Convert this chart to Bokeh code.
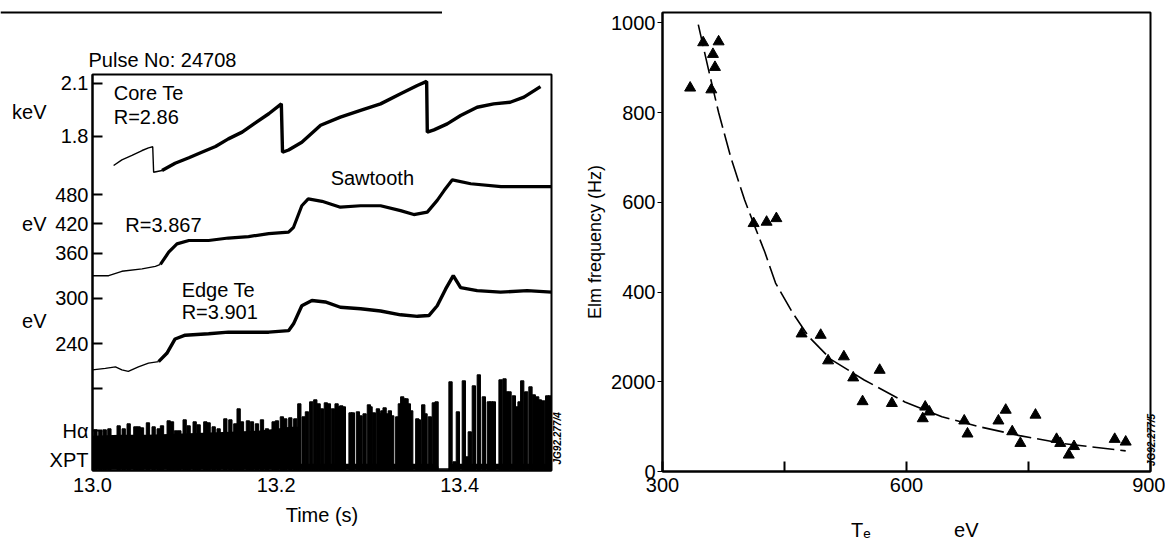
import math
from bokeh.plotting import figure
from bokeh.models import Range1d, FixedTicker, Label, LinearAxis, Title, Span, Spacer
from bokeh.layouts import row, column
from bokeh.embed import file_html
from bokeh.resources import INLINE

FONT = "Liberation Sans"
NB = "\u00a0"

# ---------------- data: left panel (Pulse No: 24708) ----------------
time_ticks = [13.0, 13.2, 13.4]
time_tick_labels = ["13.0", "13.2", "13.4"]

core_t = [13.023, 13.032, 13.043, 13.054, 13.061, 13.0656, 13.0666, 13.0757, 13.090, 13.105,
          13.119, 13.134, 13.148, 13.163, 13.177, 13.192, 13.2057, 13.207, 13.2136, 13.228,
          13.2485, 13.270, 13.292, 13.3138, 13.3356, 13.3538, 13.364, 13.3647, 13.372, 13.3864,
          13.401, 13.419, 13.437, 13.455, 13.470, 13.488]
core_kev = [1.634, 1.666, 1.691, 1.719, 1.734, 1.740, 1.596, 1.606, 1.647, 1.678,
            1.709, 1.742, 1.785, 1.823, 1.874, 1.927, 1.983, 1.709, 1.722, 1.766,
            1.862, 1.908, 1.946, 1.983, 2.040, 2.087, 2.110, 1.823, 1.836, 1.870,
            1.917, 1.964, 1.983, 1.992, 2.021, 2.081]
core_ticks = [2.1, 1.8]
core_tick_labels = ["2.1", "1.8"]

r3867_t = [13.0, 13.0176, 13.032, 13.054, 13.0685, 13.074, 13.083, 13.092, 13.105, 13.1265,
           13.148, 13.170, 13.192, 13.2136, 13.219, 13.228, 13.235, 13.250, 13.270, 13.292,
           13.3138, 13.3356, 13.350, 13.3647, 13.3755, 13.383, 13.392, 13.412, 13.445, 13.5]
r3867_ev = [314, 314, 323, 328, 333, 337, 362, 379, 386, 386,
            391, 394, 400, 403, 413, 457, 471, 466, 454, 457,
            457, 447, 439, 444, 468, 488, 510, 502, 496, 496]
r3867_ticks = [480, 420, 360]
r3867_tick_labels = ["480", "420", "360"]

edge_t = [13.0, 13.014, 13.025, 13.032, 13.039, 13.050, 13.061, 13.072, 13.081, 13.090,
          13.101, 13.1265, 13.148, 13.170, 13.192, 13.2136, 13.219, 13.228, 13.239, 13.2536,
          13.270, 13.292, 13.3138, 13.3356, 13.354, 13.3664, 13.3755, 13.3846, 13.393, 13.401,
          13.419, 13.4445, 13.4735, 13.5]
edge_ev = [205, 207, 209, 205, 203, 209, 214, 216, 227, 246,
           251, 253, 255, 255, 255, 257, 266, 290, 297, 295,
           288, 286, 283, 278, 276, 277, 290, 312, 330, 314,
           310, 308, 310, 308]
edge_ticks = [300, 240, 180]
edge_tick_labels = ["300", "240", ""]

# H-alpha (XPT), arbitrary units
ha_dense_t = [13.0, 13.03, 13.06, 13.09, 13.12, 13.15, 13.18, 13.2, 13.215, 13.225]
ha_dense_h = [3.4, 3.5, 3.5, 3.6, 3.7, 3.8, 3.9, 4.1, 4.3, 4.3]
ha_floor_t = [13.225, 13.376, 13.377, 13.389, 13.390, 13.5]
ha_floor_h = [0.6, 0.6, 0.15, 0.15, 0.6, 0.6]
ha_spike_t = [13.0032, 13.0086, 13.0133, 13.0184, 13.0285, 13.034, 13.0394, 13.0467, 13.0503, 13.0539,
              13.0604, 13.0666, 13.0721, 13.0757, 13.083, 13.0866, 13.0909, 13.0946, 13.1004, 13.1047,
              13.1113, 13.1156, 13.1229, 13.1265, 13.132, 13.1374, 13.1447, 13.1502, 13.1556, 13.1592,
              13.1628, 13.1693, 13.1737, 13.1791, 13.1846, 13.19, 13.1973, 13.2009, 13.2063, 13.21,
              13.2155, 13.2209,
              13.2253, 13.23, 13.2336, 13.2383, 13.2427, 13.2463, 13.2499, 13.2542, 13.2575, 13.2619,
              13.2659, 13.2684, 13.271, 13.2738, 13.2811, 13.2836, 13.2891, 13.292, 13.2964, 13.3011,
              13.3029, 13.3065, 13.3109, 13.313, 13.3157, 13.3182, 13.3211, 13.3239, 13.3265, 13.332,
              13.3348, 13.3374, 13.3399, 13.3421, 13.3446, 13.3472, 13.3538, 13.3555, 13.3603, 13.3628,
              13.3675, 13.3718, 13.3748, 13.39, 13.3944, 13.398, 13.4045, 13.4082, 13.411, 13.4154,
              13.4208, 13.4263, 13.4317, 13.4343, 13.4372, 13.4445, 13.4488, 13.451, 13.4543, 13.459,
              13.4627, 13.4652, 13.4681, 13.4724, 13.4771, 13.4807, 13.4844, 13.4873, 13.491, 13.4953,
              13.4982]
ha_spike_h = [4.0, 3.9, 4.0, 4.1, 4.4, 4.1, 4.6, 4.3, 4.3, 4.2,
              4.7, 4.3, 4.1, 4.4, 4.9, 4.8, 3.9, 3.9, 5.0, 4.4,
              4.8, 4.5, 4.8, 4.7, 4.3, 4.1, 5.1, 5.0, 4.6, 6.1,
              4.8, 4.9, 4.8, 4.6, 5.0, 4.1, 4.8, 4.9, 5.3, 5.1,
              5.2, 5.1,
              6.6, 5.3, 5.8, 6.8, 7.0, 6.6, 6.1, 6.7, 6.6, 6.1,
              6.6, 6.3, 6.4, 6.3, 5.7, 5.7, 5.8, 5.4, 5.6, 6.5,
              6.3, 5.7, 6.1, 5.6, 5.9, 6.2, 5.6, 5.9, 5.4, 5.3,
              6.6, 7.3, 7.1, 7.1, 6.6, 5.9, 5.1, 5.0, 6.5, 5.6,
              5.3, 6.7, 6.8, 8.8, 0.8, 5.8, 8.9, 1.3, 3.8, 8.4,
              9.5, 7.3, 6.8, 6.8, 6.8, 9.0, 9.1, 7.8, 7.8, 7.4,
              6.3, 6.8, 8.9, 7.8, 8.3, 7.5, 7.3, 7.0, 6.9, 7.4,
              7.4]

# ---------------- data: right panel (ELM frequency vs Te) ----------------
te_ev = [334, 350, 362, 364.5, 360, 369, 412, 428, 440, 471, 494.5, 503.6, 523, 534.5, 567,
         546, 582, 623, 628, 620, 671, 675, 713, 722, 730, 740, 758.6, 784.5, 789, 799.5,
         806, 856, 869.5]
elm_hz = [855, 956, 930, 901, 851, 958, 553, 556, 564, 307, 304, 247, 256, 209, 226,
          156, 152, 144, 133, 118, 113, 84, 113, 137, 89, 63, 126, 72, 63, 37,
          56, 72, 66]
fit_te = [344, 356, 369, 384, 401, 412, 426, 439, 459.5, 480, 507, 548, 598, 643.6,
          689, 739, 793.6, 869.5]
fit_hz = [996, 900, 800, 700, 605, 553, 488, 420, 355, 300, 250, 204, 155, 122,
          100, 80, 62, 46]
te_ticks = [300, 600, 900]
te_minor_ticks = [450, 750]
hz_ticks = [0, 200, 400, 600, 800, 1000]
hz_tick_labels = ["0", "2000", "400", "600", "800", "1000"]

# ---------------- caption rule across the top-left ----------------
RULE_H = 24
rule_fig = figure(width=442, height=RULE_H, x_range=Range1d(0, 1), y_range=Range1d(0, 1),
                  output_backend="svg", toolbar_location=None, title=None,
                  x_axis_location=None, y_axis_location=None, min_border=0)
rule_fig.outline_line_color = None
rule_fig.grid.visible = False
rule_fig.add_layout(Span(location=0.5, dimension="width", line_color="black", line_width=2))

# ---------------- left panel ----------------
FRAME_H = 396  # left frame height in px; the default y range counts px up from the frame bottom


def band(v0, pos0, units_per_px):
    return Range1d(v0 - pos0 * units_per_px, v0 + (FRAME_H - pos0) * units_per_px)


def tick_pos(v, v0, pos0, units_per_px):
    return pos0 + (v - v0) / units_per_px


CAL = {
    "core": (2.1, 387.3, 0.3 / 53.0),
    "r3867": (480.0, 276.0, 60.0 / 29.35),
    "edge": (300.0, 172.3, 60.0 / 45.3),
    "ha": (0.0, 0.7, 0.1),
}

left = figure(width=580, height=543 - RULE_H, x_range=Range1d(13.0, 13.5), y_range=Range1d(0, FRAME_H),
              output_backend="svg", toolbar_location=None, title=None,
              min_border_left=92, min_border_right=29, min_border_top=74 - RULE_H, min_border_bottom=73)
left.extra_y_ranges = {k: band(*c) for k, c in CAL.items()}

ticks, overrides = [], {}
for name, vals, labs in [("core", core_ticks, core_tick_labels),
                         ("r3867", r3867_ticks, r3867_tick_labels),
                         ("edge", edge_ticks, edge_tick_labels)]:
    for v, lab in zip(vals, labs):
        p = tick_pos(v, *CAL[name])
        ticks.append(p)
        overrides[p] = lab
# channel names sitting in the tick-label column
HA_POS, XPT_POS = 40.0, 11.0
ticks += [HA_POS, XPT_POS]
overrides[HA_POS] = "H\u03b1"
overrides[XPT_POS] = "XPT"

left.yaxis.ticker = FixedTicker(ticks=ticks)
left.yaxis.major_label_overrides = overrides
left.xaxis.ticker = FixedTicker(ticks=time_ticks)
left.xaxis.major_label_overrides = dict(zip(time_ticks, time_tick_labels))


def split_at(ts, onset):
    return next(i for i, t in enumerate(ts) if t >= onset)


for ts, vs, rng, onset, w in [(core_t, core_kev, "core", 13.07, 3.4),
                              (r3867_t, r3867_ev, "r3867", 13.07, 3.2),
                              (edge_t, edge_ev, "edge", 13.065, 3.4)]:
    i = split_at(ts, onset)
    left.line(ts[:i + 1], vs[:i + 1], y_range_name=rng, color="black", line_width=1.4)
    left.line(ts[i:], vs[i:], y_range_name=rng, color="black", line_width=w)

left.varea(x=ha_dense_t, y1=0, y2=ha_dense_h, y_range_name="ha", fill_color="black")
left.varea(x=ha_floor_t, y1=0, y2=ha_floor_h, y_range_name="ha", fill_color="black")
left.vbar(x=ha_spike_t, top=ha_spike_h, bottom=0, width=0.0036, y_range_name="ha",
          fill_color="black", line_color="black")

for ax in (left.xaxis[0], left.yaxis[0]):
    ax.axis_line_width = 2
    ax.major_label_text_font = FONT
    ax.major_label_text_font_size = "20px"
    ax.major_label_text_color = "black"
    ax.minor_tick_line_color = None
    ax.major_tick_out = 0
left.yaxis.major_tick_in = 10
left.yaxis.major_tick_line_width = 2
left.yaxis.major_label_standoff = 4
left.xaxis.major_tick_in = 6
left.xaxis.major_label_standoff = 7
left.xaxis.axis_label = "Time (s)"
left.xaxis.axis_label_text_font = FONT
left.xaxis.axis_label_text_font_size = "20px"
left.xaxis.axis_label_text_font_style = "normal"
left.xaxis.axis_label_text_color = "black"
left.xaxis.axis_label_standoff = 9

# unit labels further left (second, outer left axis carrying only text)
KEV_POS, EV2_POS = 359.0, 150.0
EV1_POS = tick_pos(420, *CAL["r3867"])
unit_axis = LinearAxis(ticker=FixedTicker(ticks=[KEV_POS, EV1_POS, EV2_POS]),
                       axis_line_color=None, major_tick_line_color=None, minor_tick_line_color=None,
                       major_tick_in=0, major_tick_out=0, minor_tick_in=0, minor_tick_out=0,
                       major_label_standoff=0, major_label_text_font=FONT,
                       major_label_text_font_size="20px", major_label_text_color="black")
unit_axis.major_label_overrides = {KEV_POS: "keV", EV1_POS: "eV", EV2_POS: "eV"}
left.add_layout(unit_axis, "left")


def side_note(pos, text, standoff):
    ax = LinearAxis(ticker=FixedTicker(ticks=[pos]), axis_line_color=None,
                    major_tick_line_color=None, minor_tick_line_color=None,
                    major_tick_in=0, major_tick_out=0, minor_tick_in=0, minor_tick_out=0,
                    axis_label_standoff=0, major_label_standoff=standoff,
                    major_label_orientation=math.pi / 2, major_label_text_font=FONT,
                    major_label_text_font_size="10px", major_label_text_font_style="bold italic",
                    major_label_text_color="black")
    ax.major_label_overrides = {pos: text}
    return ax


left.add_layout(side_note(6.0, "JG92.277/4", 6), "right")

left.add_layout(Title(text="Pulse No: 24708", align="left", offset=-4, standoff=7,
                      text_font=FONT, text_font_size="20px", text_font_style="normal",
                      text_color="black"), "above")

left.grid.visible = False
left.outline_line_color = "black"
left.outline_line_width = 2


def lab(fig, x, y, text, size="20px", align="left"):
    fig.add_layout(Label(x=x, y=y, text=text, text_font=FONT, text_font_size=size,
                         text_align=align, text_baseline="middle", text_color="black"))


lab(left, 13.0231, 378, "Core Te")
lab(left, 13.0231, 354, "R=2.86")
lab(left, 13.0358, 246, "R=3.867")
lab(left, 13.2594, 293, "Sawtooth")
lab(left, 13.0971, 181, "Edge Te")
lab(left, 13.0971, 159, "R=3.901")

# ---------------- right panel ----------------
right = figure(width=585, height=543, x_range=Range1d(300, 900), y_range=Range1d(0, 1023),
               output_backend="svg", toolbar_location=None, title=None,
               min_border_left=82, min_border_right=12, min_border_top=12, min_border_bottom=72)
right.line(fit_te, fit_hz, color="black", line_width=1.6, line_dash="22 6")
right.scatter(te_ev, elm_hz, marker="triangle", size=11, fill_color="black", line_color="black")

right.xaxis.ticker = FixedTicker(ticks=te_ticks, minor_ticks=te_minor_ticks)
right.yaxis.ticker = FixedTicker(ticks=hz_ticks)
right.yaxis.major_label_overrides = dict(zip(hz_ticks, hz_tick_labels))
for ax in (right.xaxis[0], right.yaxis[0]):
    ax.axis_line_width = 2
    ax.major_label_text_font = FONT
    ax.major_label_text_font_size = "20px"
    ax.major_label_text_color = "black"
    ax.axis_label_text_font = FONT
    ax.axis_label_text_font_style = "normal"
    ax.axis_label_text_color = "black"
right.xaxis.major_tick_in = 10
right.xaxis.major_tick_out = 0
right.xaxis.minor_tick_in = 10
right.xaxis.minor_tick_out = 0
right.xaxis.major_tick_line_width = 2
right.xaxis.minor_tick_line_width = 2
right.xaxis.major_label_standoff = 6
right.xaxis.axis_label = NB * 3 + "T\u2091" + NB * 15 + "eV"
right.xaxis.axis_label_text_font_size = "20px"
right.xaxis.axis_label_standoff = 24
right.yaxis.major_tick_in = 0
right.yaxis.major_tick_out = 5
right.yaxis.minor_tick_line_color = None
right.yaxis.major_label_standoff = 2
right.yaxis.axis_label = "Elm frequency (Hz)"
right.yaxis.axis_label_text_font_size = "18px"
right.yaxis.axis_label_standoff = 3

right.add_layout(side_note(12.0, "JG92.277/5", 1), "right")

right.grid.visible = False
right.outline_line_color = "black"
right.outline_line_width = 2

for f in (rule_fig, left, right):
    if "frame_align" in f.properties():
        f.frame_align = False

left_block = column(row(rule_fig, Spacer(width=580 - 442, height=RULE_H)), left)
layout = row(left_block, right)
open("out.html", "w").write(file_html(layout, INLINE))
